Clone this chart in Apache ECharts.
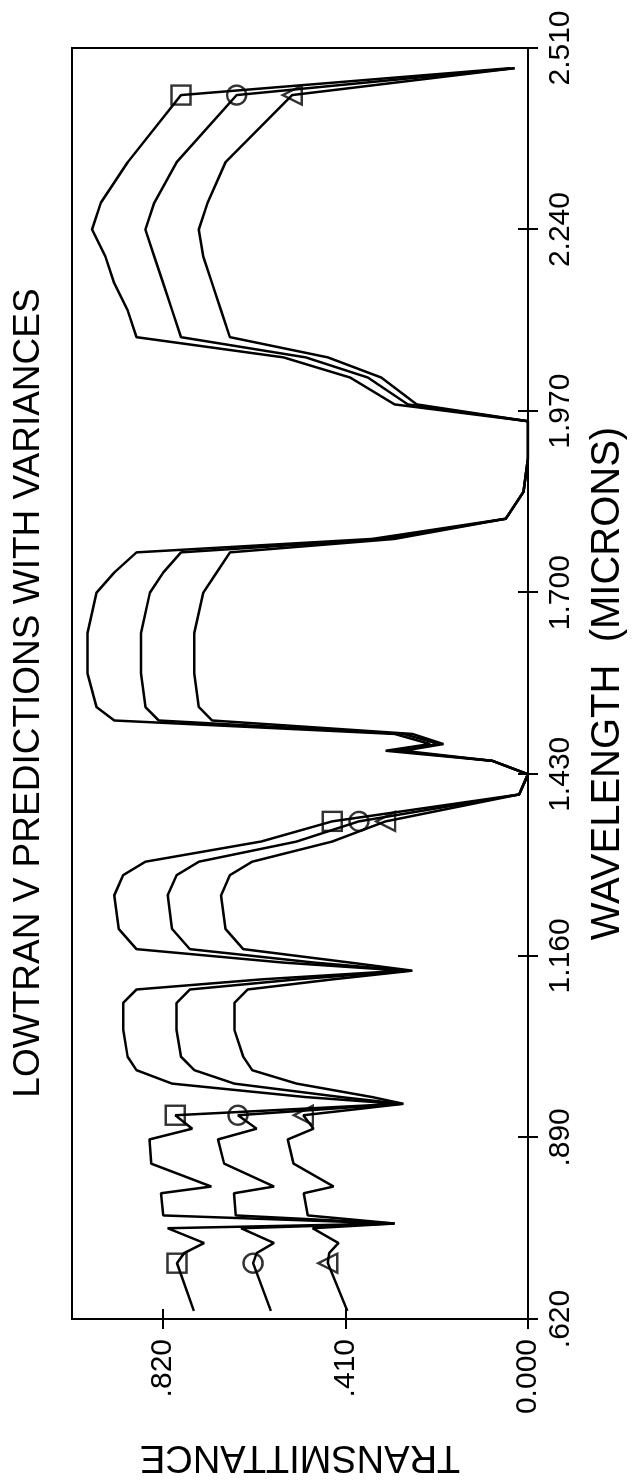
<!DOCTYPE html>
<html><head><meta charset="utf-8">
<script src="https://cdn.jsdelivr.net/npm/echarts@6/dist/echarts.min.js"></script>
<style>
html,body{margin:0;padding:0;width:634px;height:1483px;overflow:hidden;background:#fff;}
#wrap{position:absolute;left:0;top:0;width:1483px;height:634px;transform-origin:0 0;transform:translateY(1483px) rotate(-90deg);}
</style></head><body>
<div id="wrap"></div>
<script>
const wavelength = [0.632,0.703,0.718,0.733,0.755,0.762,0.774,0.807,0.817,0.851,0.887,0.903,0.923,0.940,0.95,0.97,0.99,1.01,1.05,1.09,1.11,1.125,1.138,1.15,1.17,1.20,1.25,1.28,1.30,1.33,1.36,1.40,1.43,1.45,1.465,1.475,1.49,1.51,1.53,1.58,1.64,1.70,1.73,1.76,1.78,1.81,1.85,1.90,1.955,1.98,2.02,2.05,2.08,2.12,2.16,2.20,2.24,2.28,2.34,2.44,2.48];
const upper  = [0.751,0.789,0.773,0.728,0.810,0.300,0.820,0.825,0.712,0.847,0.851,0.755,0.793,0.290,0.50,0.80,0.88,0.90,0.91,0.91,0.88,0.60,0.28,0.55,0.88,0.92,0.93,0.91,0.86,0.60,0.44,0.02,0.00,0.08,0.32,0.22,0.30,0.93,0.97,0.99,0.99,0.97,0.93,0.88,0.35,0.05,0.01,0.00,0.00,0.30,0.40,0.55,0.88,0.90,0.93,0.95,0.98,0.96,0.90,0.78,0.04];
const middle = [0.578,0.618,0.610,0.571,0.645,0.300,0.657,0.661,0.571,0.683,0.697,0.610,0.652,0.285,0.42,0.66,0.75,0.78,0.79,0.79,0.76,0.52,0.27,0.48,0.76,0.80,0.81,0.79,0.74,0.52,0.38,0.02,0.00,0.08,0.30,0.20,0.28,0.83,0.86,0.87,0.87,0.85,0.82,0.78,0.32,0.05,0.01,0.00,0.00,0.27,0.36,0.50,0.78,0.80,0.82,0.84,0.86,0.84,0.79,0.655,0.03];
const lower  = [0.406,0.450,0.447,0.426,0.484,0.300,0.495,0.504,0.437,0.527,0.540,0.482,0.505,0.280,0.35,0.52,0.62,0.64,0.66,0.66,0.63,0.44,0.26,0.40,0.64,0.68,0.69,0.67,0.62,0.44,0.32,0.02,0.00,0.08,0.28,0.19,0.26,0.71,0.74,0.75,0.75,0.73,0.70,0.67,0.30,0.05,0.01,0.00,0.00,0.25,0.33,0.45,0.67,0.69,0.71,0.73,0.74,0.72,0.68,0.53,0.03];
const markerIndex = [1,12,30,59];
const xTicks = [0.62,0.89,1.16,1.43,1.70,1.97,2.24,2.51];
const xTickLabels = ['.620','.890','1.160','1.430','1.700','1.970','2.240','2.510'];
const yTicks = [0,0.41,0.82];
const yTickLabels = ['0.000','.410','.820'];
const titleText = 'LOWTRAN V PREDICTIONS WITH VARIANCES';
const xName = 'WAVELENGTH  (MICRONS)';
const yName = 'TRANSMITTANCE';

const FONT = 'Liberation Sans';
function lab(ticks, labels){ return v => { const i = ticks.findIndex(t => Math.abs(t - v) < 1e-6); return i >= 0 ? labels[i] : ''; }; }
const pairs = arr => wavelength.map((w,i) => [w, arr[i]]);
const marks = arr => markerIndex.map(i => [wavelength[i], arr[i]]);

const X0 = 0.62, X1 = 2.51, Y0 = 0, Y1 = 1.025;
const axisBase = {type:'value', min:X0, max:X1};
const chart = echarts.init(document.getElementById('wrap'), null, {renderer:'canvas', width:1483, height:634});
const lineS = (name, arr) => ({type:'line', name, data:pairs(arr), symbol:'none', lineStyle:{color:'#000', width:2.5}, z:2});
const markS = (arr, sym) => ({type:'scatter', data:marks(arr), symbol:sym, symbolSize:19, itemStyle:{color:'rgba(0,0,0,0)', borderColor:'#000', borderWidth:2.4}, z:3});
chart.setOption({
  animation:false,
  backgroundColor:'#fff',
  title:{text:titleText, left:790, textAlign:'center', top:10, padding:0, textStyle:{fontFamily:FONT, fontSize:37, fontWeight:'normal', color:'#000'}},
  grid:{left:160, right:48, top:72, bottom:106, show:true, borderColor:'#000', borderWidth:2, backgroundColor:'#fff'},
  xAxis:[
    Object.assign({}, axisBase, {position:'bottom', name:xName, nameLocation:'middle', nameGap:60,
      nameTextStyle:{fontFamily:FONT, fontSize:40, color:'#000'},
      axisLine:{show:true, lineStyle:{color:'#000', width:2}}, splitLine:{show:false},
      axisTick:{show:true, customValues:xTicks, length:10, lineStyle:{color:'#000', width:2}},
      axisLabel:{customValues:xTicks, formatter:lab(xTicks, xTickLabels), margin:18, fontFamily:FONT, fontSize:30, color:'#000'}}),
    Object.assign({}, axisBase, {position:'bottom', axisLine:{show:false}, splitLine:{show:false},
      axisTick:{show:true, inside:true, customValues:xTicks, length:10, lineStyle:{color:'#000', width:2}},
      axisLabel:{show:false}})
  ],
  yAxis:[
    {type:'value', min:Y0, max:Y1, position:'left', name:yName, nameLocation:'middle', nameGap:118, nameRotate:90,
      nameTextStyle:{fontFamily:FONT, fontSize:38, color:'#000'},
      axisLine:{show:true, lineStyle:{color:'#000', width:2}}, splitLine:{show:false},
      axisTick:{show:true, customValues:yTicks, length:10, lineStyle:{color:'#000', width:2}},
      axisLabel:{customValues:yTicks, formatter:lab(yTicks, yTickLabels), margin:20, fontFamily:FONT, fontSize:30, color:'#000'}},
    {type:'value', min:Y0, max:Y1, position:'left', axisLine:{show:false}, splitLine:{show:false},
      axisTick:{show:true, inside:true, customValues:yTicks, length:10, lineStyle:{color:'#000', width:2}},
      axisLabel:{show:false}}
  ],
  series:[
    lineS('upper', upper), lineS('middle', middle), lineS('lower', lower),
    markS(upper,'rect'), markS(middle,'circle'), markS(lower,'triangle')
  ]
});
</script>
</body></html>
